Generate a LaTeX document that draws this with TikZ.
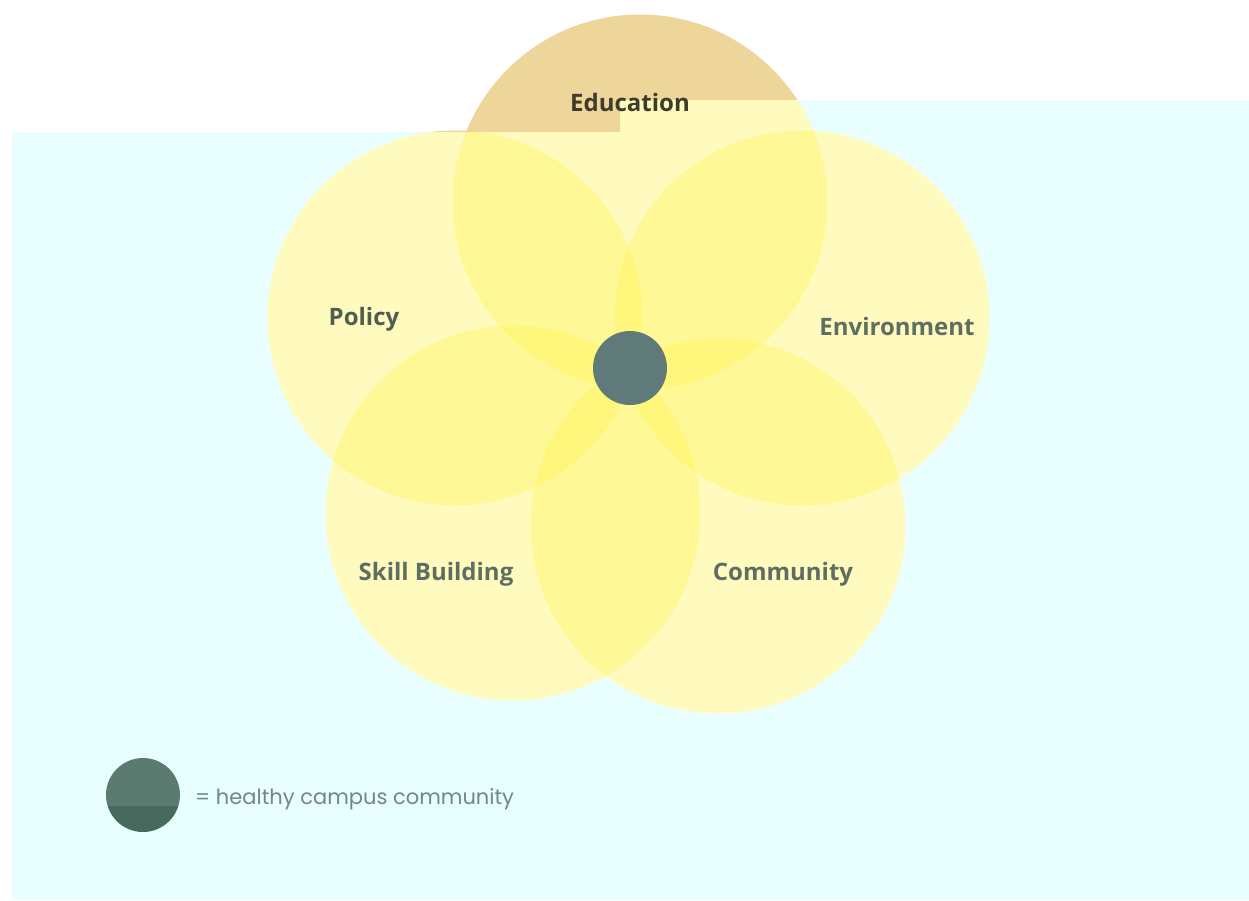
\documentclass[tikz,border=0pt]{standalone}
\usepackage{fontspec}
\setmainfont{Open Sans}
\newfontfamily\legendfont{Poppins}
\begin{document}
\definecolor{panel}{HTML}{E9FEFF}
\definecolor{petalfill}{HTML}{FFF550}
\definecolor{petaltop}{HTML}{EED599}
\definecolor{labeltxt}{HTML}{5E6E60}
\definecolor{labeldark}{HTML}{3E3D2C}
\definecolor{hubfill}{HTML}{5F7A78}
\definecolor{keyupper}{HTML}{5B7A70}
\definecolor{keylower}{HTML}{466A5D}
\definecolor{keytxt}{HTML}{728885}
\begin{tikzpicture}[x=1pt,y=-1pt,
  petal/.style={circle,inner sep=0pt,minimum size=375pt},
  petallabel/.style={font=\bfseries\fontsize{24}{28}\selectfont,text=labeltxt,inner sep=0pt},
  hub/.style={circle,inner sep=0pt,minimum size=74pt,fill=hubfill}]
\useasboundingbox (0,0) rectangle (1249,900);
\fill[white] (0,0) rectangle (1249,900);
% light panel behind the diagram
\fill[panel] (12,132) -- (620,132) -- (620,100) -- (1249,100) -- (1249,900) -- (12,900) -- cycle;
% petal positions
\coordinate (cEdu) at (640,202);
\coordinate (cPol) at (455,318);
\coordinate (cEnv) at (802,318);
\coordinate (cSki) at (513,513);
\coordinate (cCom) at (718,526);
% white base for the petals
\foreach \c in {cEdu,cPol,cEnv,cSki,cCom}
  \fill[white] (\c) circle[radius=187.5pt];
% part of the petals above the panel
\begin{scope}
  \clip (0,0) -- (1249,0) -- (1249,100) -- (620,100) -- (620,132) -- (0,132) -- cycle;
  \foreach \c in {cEdu,cPol}
    \fill[petaltop] (\c) circle[radius=187.5pt];
\end{scope}
% translucent petals on the panel
\begin{scope}
  \clip (12,132) -- (620,132) -- (620,100) -- (1249,100) -- (1249,900) -- (12,900) -- cycle;
  \node[petal,fill=petalfill,fill opacity=0.36] (edu) at (cEdu) {};
  \node[petal,fill=petalfill,fill opacity=0.36] (pol) at (cPol) {};
  \node[petal,fill=petalfill,fill opacity=0.36] (env) at (cEnv) {};
  \node[petal,fill=petalfill,fill opacity=0.36] (ski) at (cSki) {};
  \node[petal,fill=petalfill,fill opacity=0.36] (com) at (cCom) {};
\end{scope}
% labels
\node[petallabel,text=labeldark] (tEdu) at (630,102) {Education};
\node[petallabel,text=labeltxt!85!black] (tPol) at (364,319) {Policy};
\node[petallabel] (tEnv) at (897,326) {Environment};
\node[petallabel] (tSki) at (436,574) {Skill Building};
\node[petallabel] (tCom) at (783,574) {Community};
% hub
\node[hub] (core) at (630,368) {};
% key
\node[circle,inner sep=0pt,minimum size=74pt] (key) at (143,795) {};
\begin{scope}
  \clip (143,795) circle[radius=37pt];
  \fill[keyupper] (100,750) rectangle (190,806);
  \fill[keylower] (100,806) rectangle (190,840);
\end{scope}
\node[anchor=west,inner sep=0pt,font=\legendfont\fontsize{21}{25}\selectfont,text=keytxt] (keytext) at (195,799) {= healthy campus community};
\end{tikzpicture}
\end{document}
